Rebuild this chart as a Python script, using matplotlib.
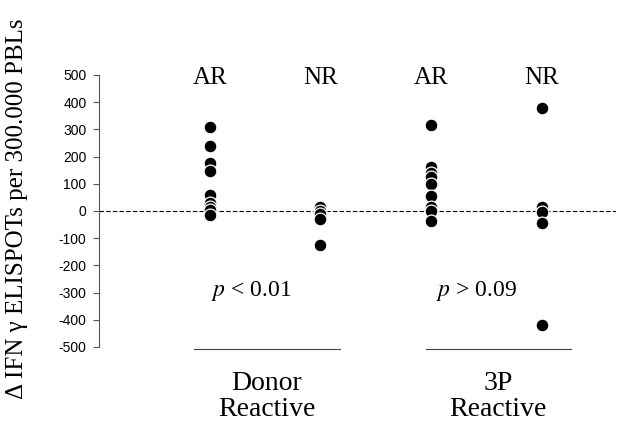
import matplotlib
matplotlib.use("Agg")
import matplotlib.pyplot as plt

plt.rcParams['mathtext.fontset'] = 'stix'

# data
groups = [('Donor', 'Reactive'), ('3P', 'Reactive')]
subsets = ['AR', 'NR', 'AR', 'NR']
donor_ar = [310, 240, 175, 148, 60, 30, 15, 5, -15]
donor_nr = [15, 0, -10, -28, -125]
tp_ar = [315, 160, 140, 125, 100, 55, 15, 0, -38]
tp_nr = [380, 15, -5, -45, -420]
pvals = ['$p$ < 0.01', '$p$ > 0.09']
yticks = list(range(-500, 501, 100))

series = [donor_ar, donor_nr, tp_ar, tp_nr]

fig = plt.figure(figsize=(6.19, 4.21), dpi=100)
ax = fig.add_axes([0.16, 0.176, 0.835, 0.646])

for i, vals in enumerate(series):
    ax.scatter([i + 1] * len(vals), vals, s=85, color='black',
               edgecolor='white', linewidth=0.9, zorder=3)

ax.axhline(0, color='black', linestyle=(0, (4, 2)), linewidth=0.8, zorder=1)

ax.set_xlim(0, 4.67)
ax.set_ylim(-500, 500)
ax.set_yticks(yticks)
ax.set_yticklabels([str(t) for t in yticks], fontsize=10, family='Liberation Sans')
ax.tick_params(axis='y', direction='out', length=4, width=0.8, color='#555555', pad=5)
ax.set_xticks([])
for s in ['top', 'right', 'bottom']:
    ax.spines[s].set_visible(False)
ax.spines['left'].set_color('#555555')
ax.spines['left'].set_linewidth(0.8)

serif = 'Liberation Serif'
for i, lab in enumerate(subsets):
    ax.text(i + 1, 490, lab, ha='center', va='center', fontsize=18, family=serif,
            clip_on=False)

ax.text(1.38, -295, pvals[0], ha='center', va='center', fontsize=17, family=serif)
ax.text(3.41, -295, pvals[1], ha='center', va='center', fontsize=17, family=serif)

for (x0, x1), (l1, l2) in zip([(0.855, 2.18), (2.95, 4.26)], groups):
    ax.plot([x0, x1], [-507, -507], color='#444444', linewidth=0.8, clip_on=False)
    xc = (x0 + x1) / 2
    ax.text(xc, -660, l1, ha='center', va='baseline', fontsize=20,
            family=serif, clip_on=False)
    ax.text(xc, -755, l2, ha='center', va='baseline', fontsize=20,
            family=serif, clip_on=False)

fig.text(0.028, 0.505, '\u0394 IFN \u03b3 ELISPOTs per 300.000 PBLs', rotation=90,
         ha='center', va='center', fontsize=18, family=serif)

fig.savefig('out.png', dpi=100)
